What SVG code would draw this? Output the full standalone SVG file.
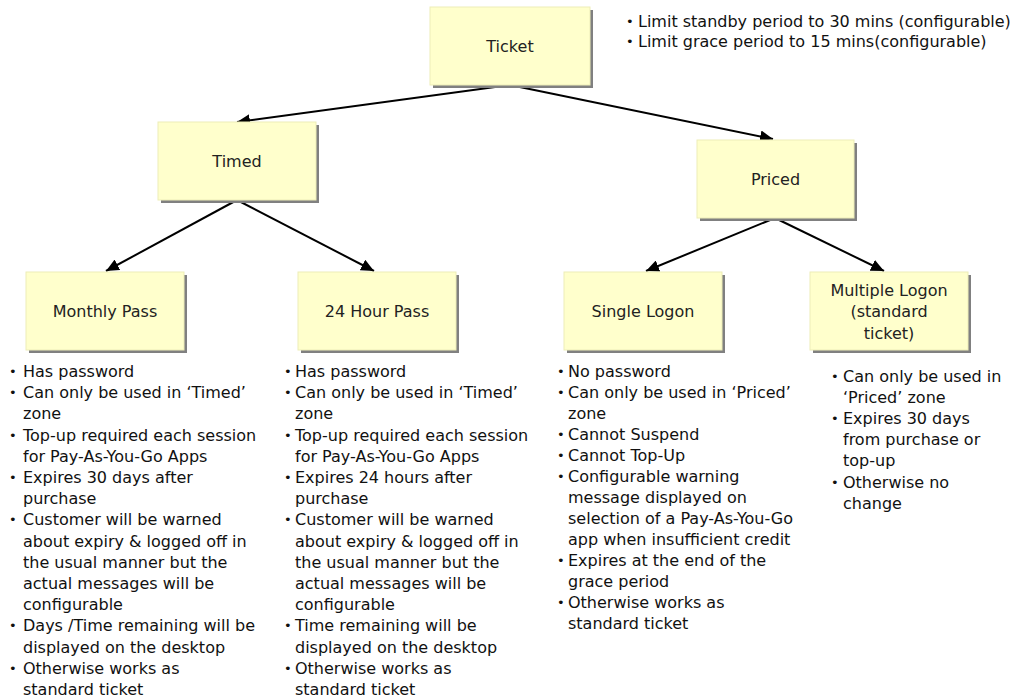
<svg xmlns="http://www.w3.org/2000/svg" width="1021" height="698" viewBox="0 0 1021 698">
<defs>
<marker id="ah" markerUnits="userSpaceOnUse" markerWidth="14" markerHeight="12" refX="13" refY="6" orient="auto">
<path d="M0,0 L13,6 L0,12 Z" fill="#000"/>
</marker>
</defs>
<style>
.box{fill:#FFFFCC;stroke:#EDEDB8;stroke-width:1}
.sh{fill:#808080}
.lbl{font-family:"DejaVu Sans",sans-serif;font-size:16px;fill:#222;text-anchor:middle}
.t{font-family:"DejaVu Sans",sans-serif;font-size:16px;fill:#111}
.b{font-family:"DejaVu Sans",sans-serif;font-size:13px;fill:#111}
.con{stroke:#000;stroke-width:2;fill:none;marker-end:url(#ah)}
</style>
<rect width="1021" height="698" fill="#fff"/>

<g id="connectors">
<path class="con" d="M510,85 L237,122"/>
<path class="con" d="M510,85 L773,139"/>
<path class="con" d="M237,200 L106,271"/>
<path class="con" d="M237,200 L374,271"/>
<path class="con" d="M775,218 L646,271"/>
<path class="con" d="M775,218 L884,271"/>
</g>

<g id="ticket">
<rect class="sh" x="433" y="10" width="160" height="78"/>
<rect class="box" x="430" y="7" width="160" height="78"/>
<text class="lbl" x="510" y="52">Ticket</text>
</g>

<g id="notes">
<text class="b" x="626" y="26">•</text><text class="t" x="638" y="27">Limit standby period to 30 mins (configurable)</text>
<text class="b" x="626" y="46">•</text><text class="t" x="638" y="47">Limit grace period to 15 mins(configurable)</text>
</g>

<g id="timed">
<rect class="sh" x="161" y="125" width="158" height="78"/>
<rect class="box" x="158" y="122" width="158" height="78"/>
<text class="lbl" x="237" y="167">Timed</text>
</g>

<g id="priced">
<rect class="sh" x="700" y="143" width="157" height="78"/>
<rect class="box" x="697" y="140" width="157" height="78"/>
<text class="lbl" x="775.5" y="185">Priced</text>
</g>

<g id="monthly-pass">
<rect class="sh" x="29" y="275" width="158" height="78"/>
<rect class="box" x="26" y="272" width="158" height="78"/>
<text class="lbl" x="105" y="317">Monthly Pass</text>
</g>

<g id="hour-pass">
<rect class="sh" x="301" y="275" width="158" height="78"/>
<rect class="box" x="298" y="272" width="158" height="78"/>
<text class="lbl" x="377" y="317">24 Hour Pass</text>
</g>

<g id="single-logon">
<rect class="sh" x="567" y="275" width="158" height="78"/>
<rect class="box" x="564" y="272" width="158" height="78"/>
<text class="lbl" x="643" y="317">Single Logon</text>
</g>

<g id="multiple-logon">
<rect class="sh" x="813" y="275" width="158" height="78"/>
<rect class="box" x="810" y="272" width="158" height="78"/>
<text class="lbl" x="889" y="295.5">Multiple Logon</text>
<text class="lbl" x="889" y="317">(standard</text>
<text class="lbl" x="889" y="338.5">ticket)</text>
</g>

<g id="monthly-notes">
<text class="b" x="9" y="376">•</text><text class="t" x="23" y="377">Has password</text>
<text class="b" x="9" y="397">•</text><text class="t" x="23" y="398.2">Can only be used in ‘Timed’</text>
<text class="t" x="23" y="419.4">zone</text>
<text class="b" x="9" y="439.5">•</text><text class="t" x="23" y="440.6">Top-up required each session</text>
<text class="t" x="23" y="461.8">for Pay-As-You-Go Apps</text>
<text class="b" x="9" y="482">•</text><text class="t" x="23" y="483">Expires 30 days after</text>
<text class="t" x="23" y="504.2">purchase</text>
<text class="b" x="9" y="524.4">•</text><text class="t" x="23" y="525.4">Customer will be warned</text>
<text class="t" x="23" y="546.6">about expiry &amp; logged off in</text>
<text class="t" x="23" y="567.8">the usual manner but the</text>
<text class="t" x="23" y="589">actual messages will be</text>
<text class="t" x="23" y="610.2">configurable</text>
<text class="b" x="9" y="630.4">•</text><text class="t" x="23" y="631.4">Days /Time remaining will be</text>
<text class="t" x="23" y="652.6">displayed on the desktop</text>
<text class="b" x="9" y="672.8">•</text><text class="t" x="23" y="673.8">Otherwise works as</text>
<text class="t" x="23" y="695">standard ticket</text>
</g>

<g id="hour-notes">
<text class="b" x="284" y="376">•</text><text class="t" x="295" y="377">Has password</text>
<text class="b" x="284" y="397">•</text><text class="t" x="295" y="398.2">Can only be used in ‘Timed’</text>
<text class="t" x="295" y="419.4">zone</text>
<text class="b" x="284" y="439.5">•</text><text class="t" x="295" y="440.6">Top-up required each session</text>
<text class="t" x="295" y="461.8">for Pay-As-You-Go Apps</text>
<text class="b" x="284" y="482">•</text><text class="t" x="295" y="483">Expires 24 hours after</text>
<text class="t" x="295" y="504.2">purchase</text>
<text class="b" x="284" y="524.4">•</text><text class="t" x="295" y="525.4">Customer will be warned</text>
<text class="t" x="295" y="546.6">about expiry &amp; logged off in</text>
<text class="t" x="295" y="567.8">the usual manner but the</text>
<text class="t" x="295" y="589">actual messages will be</text>
<text class="t" x="295" y="610.2">configurable</text>
<text class="b" x="284" y="630.4">•</text><text class="t" x="295" y="631.4">Time remaining will be</text>
<text class="t" x="295" y="652.6">displayed on the desktop</text>
<text class="b" x="284" y="672.8">•</text><text class="t" x="295" y="673.8">Otherwise works as</text>
<text class="t" x="295" y="695">standard ticket</text>
</g>

<g id="single-notes">
<text class="b" x="557" y="376">•</text><text class="t" x="568" y="377">No password</text>
<text class="b" x="557" y="397">•</text><text class="t" x="568" y="398">Can only be used in ‘Priced’</text>
<text class="t" x="568" y="419">zone</text>
<text class="b" x="557" y="439">•</text><text class="t" x="568" y="440">Cannot Suspend</text>
<text class="b" x="557" y="460">•</text><text class="t" x="568" y="461">Cannot Top-Up</text>
<text class="b" x="557" y="481">•</text><text class="t" x="568" y="482">Configurable warning</text>
<text class="t" x="568" y="503">message displayed on</text>
<text class="t" x="568" y="524">selection of a Pay-As-You-Go</text>
<text class="t" x="568" y="545">app when insufficient credit</text>
<text class="b" x="557" y="565">•</text><text class="t" x="568" y="566">Expires at the end of the</text>
<text class="t" x="568" y="587">grace period</text>
<text class="b" x="557" y="607">•</text><text class="t" x="568" y="608">Otherwise works as</text>
<text class="t" x="568" y="629">standard ticket</text>
</g>

<g id="multiple-notes">
<text class="b" x="831" y="380.5">•</text><text class="t" x="843" y="381.5">Can only be used in</text>
<text class="t" x="843" y="402.7">‘Priced’ zone</text>
<text class="b" x="831" y="422.9">•</text><text class="t" x="843" y="423.9">Expires 30 days</text>
<text class="t" x="843" y="445.1">from purchase or</text>
<text class="t" x="843" y="466.3">top-up</text>
<text class="b" x="831" y="486.5">•</text><text class="t" x="843" y="487.5">Otherwise no</text>
<text class="t" x="843" y="508.7">change</text>
</g>
</svg>
